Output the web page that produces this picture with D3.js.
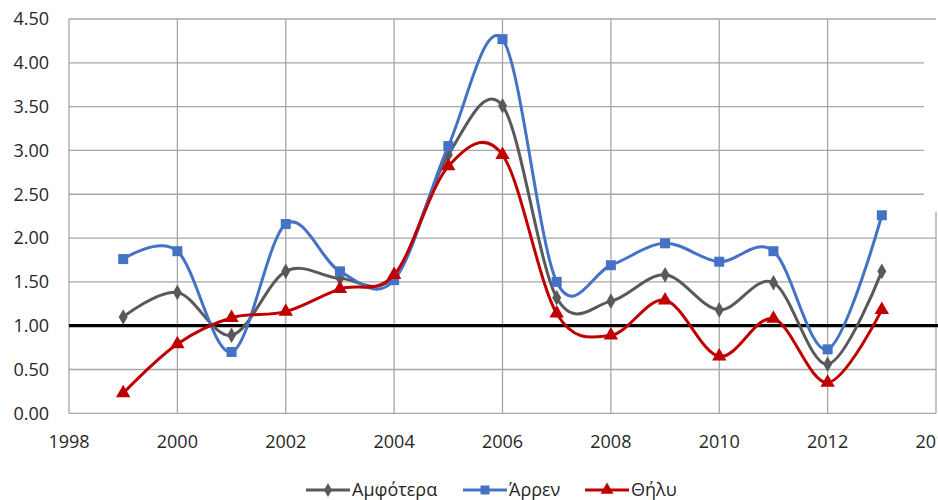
<!DOCTYPE html>
<html><head><meta charset="utf-8">
<script src="https://cdn.jsdelivr.net/npm/d3@7"></script>
<style>body{margin:0;background:#fff}svg{display:block;font-family:"Open Sans",sans-serif}</style>
</head><body><svg id="c" width="938" height="500"></svg>
<script>
const years = [1999,2000,2001,2002,2003,2004,2005,2006,2007,2008,2009,2010,2011,2012,2013];
const amfotera = [1.10,1.38,0.89,1.62,1.54,1.56,2.95,3.51,1.32,1.28,1.58,1.18,1.49,0.56,1.62];
const arren    = [1.76,1.85,0.70,2.16,1.62,1.52,3.05,4.27,1.50,1.69,1.94,1.73,1.85,0.73,2.26];
const thily    = [0.23,0.79,1.09,1.16,1.42,1.58,2.82,2.95,1.14,0.89,1.29,0.65,1.08,0.35,1.18];
const seriesNames = ["Αμφότερα","Άρρεν","Θήλυ"];
const xTicks = [1998,2000,2002,2004,2006,2008,2010,2012,2014];
const yTicks = [0,0.5,1,1.5,2,2.5,3,3.5,4,4.5];
const refValue = 1.0;

const svg = d3.select("#c");
const x = d3.scaleLinear().domain([1998,2014]).range([69,936]);
const y = d3.scaleLinear().domain([0,4.5]).range([413.3,19]);

const grid = svg.append("g");
yTicks.forEach(v=>{
  const short = v>=2.5 && v<4.5;
  grid.append("line").attr("x1",x(1998)).attr("x2",short? x(2014)-12 : x(2014))
    .attr("y1",y(v)).attr("y2",y(v)).attr("stroke","#a6a6a6").attr("stroke-width",1.3);
});
xTicks.slice(0,-1).forEach(v=>{
  grid.append("line").attr("x1",x(v)).attr("x2",x(v)).attr("y1",y(0)).attr("y2",y(4.5))
    .attr("stroke","#a6a6a6").attr("stroke-width",1.3);
});
grid.append("line").attr("x1",x(2014)).attr("x2",x(2014)).attr("y1",y(2.3)).attr("y2",y(0))
  .attr("stroke","#a6a6a6").attr("stroke-width",1.3);

// y labels
svg.append("g").selectAll("text").data(yTicks).join("text")
  .attr("x",49).attr("y",d=>y(d)).attr("dy","0.35em").attr("text-anchor","end")
  .attr("font-size",18).attr("fill","#262626").text(d=>d.toFixed(2));
// x labels
svg.append("g").selectAll("text").data(xTicks).join("text")
  .attr("x",d=>x(d)).attr("y",442).attr("dy","0.35em").attr("text-anchor","middle")
  .attr("font-size",18).attr("fill","#262626").text(d=>d);

// reference line
svg.append("line").attr("x1",x(1998)).attr("x2",938).attr("y1",y(refValue)).attr("y2",y(refValue))
  .attr("stroke","#000").attr("stroke-width",3.2);

const series = [
  {name:seriesNames[0], vals:amfotera, color:"#595959", sym:d3.symbolDiamond, size:70},
  {name:seriesNames[1], vals:arren, color:"#4472c4", sym:d3.symbolSquare, size:100},
  {name:seriesNames[2], vals:thily, color:"#c00000", sym:d3.symbolTriangle, size:90}
];
const line = d3.line().x(d=>x(d[0])).y(d=>y(d[1])).curve(d3.curveCardinal.tension(0));
series.forEach(s=>{
  const pts = years.map((yr,i)=>[yr,s.vals[i]]);
  svg.append("path").attr("d",line(pts)).attr("fill","none").attr("stroke",s.color)
    .attr("stroke-width",3).attr("stroke-linejoin","round");
  svg.append("g").selectAll("path").data(pts).join("path")
    .attr("d",d3.symbol().type(s.sym).size(s.size))
    .attr("transform",d=>`translate(${x(d[0])},${y(d[1])})`).attr("fill",s.color);
});

// legend
const legX = [306,463,585];
const leg = svg.append("g");
series.forEach((s,i)=>{
  const g = leg.append("g").attr("transform",`translate(${legX[i]},490)`);
  g.append("line").attr("x1",0).attr("x2",44).attr("stroke",s.color).attr("stroke-width",3);
  g.append("path").attr("d",d3.symbol().type(s.sym).size(s.size*0.8)).attr("transform","translate(22,0)").attr("fill",s.color);
  g.append("text").attr("x",46).attr("dy","0.35em").attr("font-size",18).attr("fill","#262626").text(s.name);
});
</script></body></html>
